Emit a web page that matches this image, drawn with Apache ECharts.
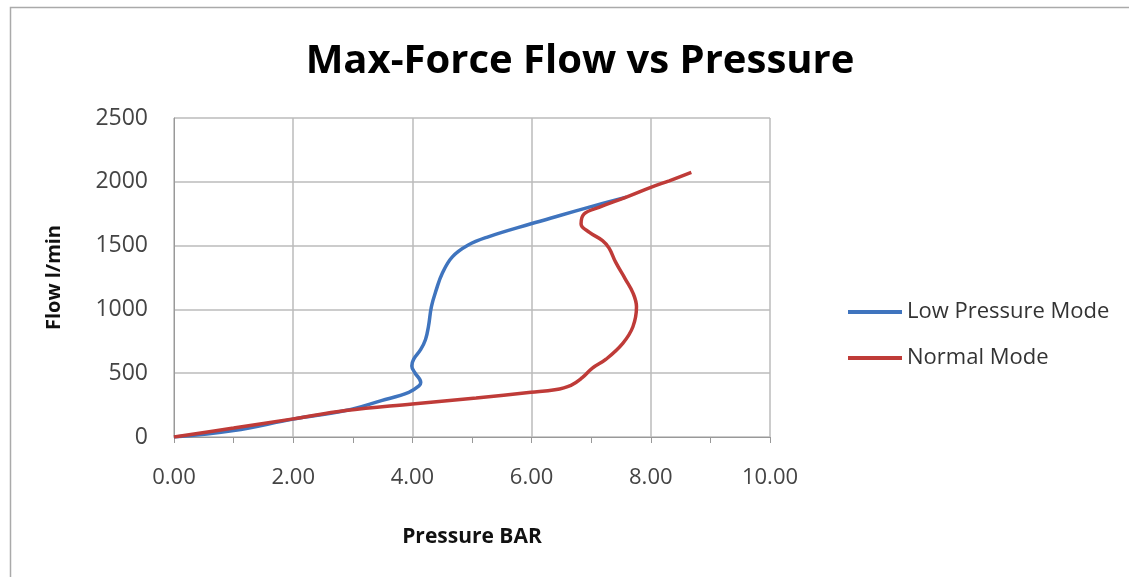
<!DOCTYPE html>
<html><head><meta charset="utf-8">
<script src="https://cdn.jsdelivr.net/npm/echarts@6/dist/echarts.min.js"></script>
<style>html,body{margin:0;padding:0;background:#fff}#c{width:1129px;height:577px}</style>
</head><body><div id="c"></div>
<script>
const xTicks = [0, 2, 4, 6, 8, 10];
const yTicks = [0, 500, 1000, 1500, 2000, 2500];
const seriesNames = ['Low Pressure Mode', 'Normal Mode'];
const lowPressure = [
  [0,0],[1.0,50],[2.0,140],[2.88,207],[3.48,285],[3.94,350],[4.11,400],[4.14,427],[4.04,505],[3.99,557],
  [4.02,609],[4.14,686],[4.22,764],[4.27,868],[4.32,1023],[4.40,1153],[4.50,1282],[4.67,1412],[4.93,1503],
  [5.26,1567],[5.99,1671],[6.46,1734],[7.0,1805],[7.59,1880]
];
const normalMode = [
  [0,0],[1.0,70],[2.0,142],[2.88,207],[4.0,259],[5.07,306],[5.99,350],[6.39,370],[6.66,405],[6.85,465],
  [7.02,540],[7.25,610],[7.53,734],[7.70,864],[7.76,1020],[7.70,1130],[7.57,1240],[7.41,1370],[7.30,1480],
  [7.19,1539],[6.97,1604],[6.83,1670],[6.88,1748],[7.13,1800],[7.59,1880],[8.0,1956],[8.31,2008],[8.68,2073]
];
const colors = ['#3f74be', '#bf3b38'];
const chart = echarts.init(document.getElementById('c'));
chart.setOption({
  animation: false,
  backgroundColor: '#fff',
  graphic: [{type:'rect', left:8, top:5, shape:{width:1130, height:600}, style:{fill:'none', stroke:'#aaa', lineWidth:1.5}, silent:true}],
  title: {text:'Max-Force Flow vs Pressure', left:575, top:37, textAlign:'center',
    textStyle:{fontFamily:'Open Sans', fontWeight:'bold', fontSize:40, color:'#000'}},
  legend: {orient:'vertical', left:843, top:296, itemGap:24, itemWidth:54, itemHeight:4,
    icon:'rect', textStyle:{fontFamily:'Open Sans', fontSize:22, color:'#333'},
    data: seriesNames},
  grid: {left:174, right:359, top:118, bottom:140, containLabel:false},
  xAxis: {type:'value', min:xTicks[0], max:xTicks[xTicks.length-1], interval:2,
    name:'Pressure BAR', nameLocation:'middle', nameGap:90,
    nameTextStyle:{fontFamily:'Open Sans', fontWeight:'bold', fontSize:21, color:'#111'},
    axisLine:{show:true, lineStyle:{color:'#999'}},
    axisTick:{show:true, length:6, inside:false, lineStyle:{color:'#999'}},
    minorTick:{show:true, splitNumber:2, length:6, lineStyle:{color:'#999'}},
    axisLabel:{formatter:v=>v.toFixed(2), fontFamily:'Open Sans', fontSize:22, color:'#444', margin:30},
    splitLine:{show:true, lineStyle:{color:'#bbb', width:1.5}}},
  yAxis: {type:'value', min:yTicks[0], max:yTicks[yTicks.length-1], interval:500,
    name:'Flow l/min', nameLocation:'middle', nameGap:110, nameRotate:90,
    nameTextStyle:{fontFamily:'Open Sans', fontWeight:'bold', fontSize:20, color:'#111'},
    axisLine:{show:true, lineStyle:{color:'#999'}},
    axisTick:{show:false},
    axisLabel:{formatter:v=>String(v), fontFamily:'Open Sans', fontSize:23, color:'#444', margin:26},
    splitLine:{show:true, lineStyle:{color:'#bbb', width:1.5}}},
  series: [
    {name:seriesNames[0], type:'line', data:lowPressure, smooth:0.4, showSymbol:false, symbol:'none',
      lineStyle:{color:colors[0], width:3.5}, itemStyle:{color:colors[0]}},
    {name:seriesNames[1], type:'line', data:normalMode, smooth:0.4, showSymbol:false, symbol:'none',
      lineStyle:{color:colors[1], width:3.5}, itemStyle:{color:colors[1]}}
  ]
});
</script></body></html>
